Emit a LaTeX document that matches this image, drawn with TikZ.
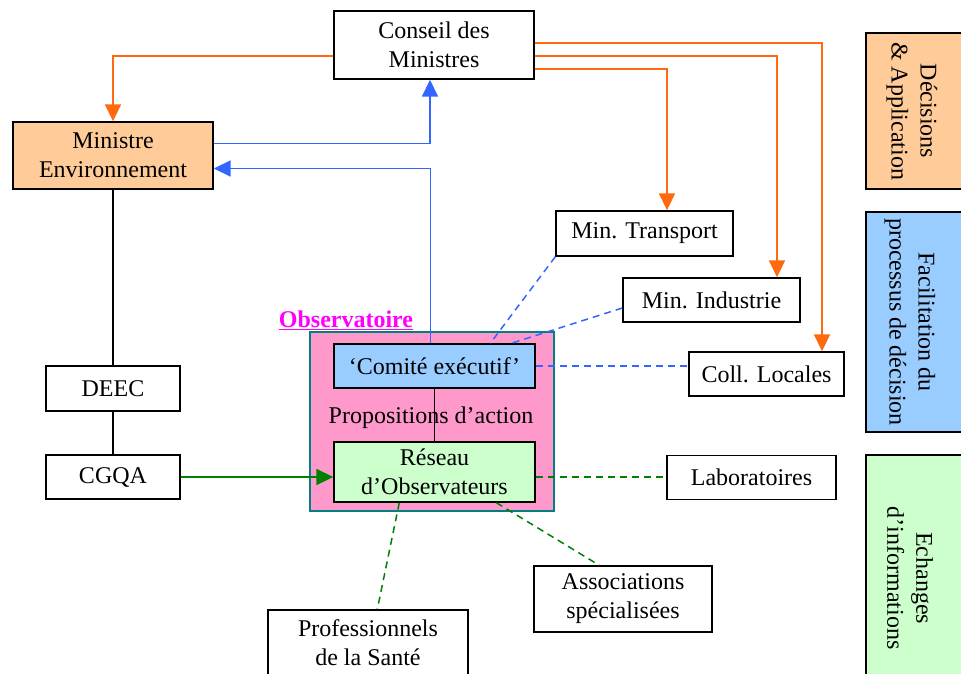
\documentclass[tikz,border=0pt]{standalone}
\usepackage{fontspec}
\setmainfont{Liberation Serif}
\usetikzlibrary{arrows.meta}
\definecolor{peach}{HTML}{FFCC99}
\definecolor{lblue}{HTML}{99CCFF}
\definecolor{lgreen}{HTML}{CCFFCC}
\definecolor{pinkobs}{HTML}{FF99CC}
\definecolor{tealb}{HTML}{008080}
\definecolor{orangel}{HTML}{FF6A10}
\definecolor{bluel}{HTML}{3366FF}
\definecolor{greenl}{HTML}{008000}
\definecolor{magentat}{HTML}{FF00FF}
\begin{document}
\begin{tikzpicture}[x=1pt,y=-1pt,
  every node/.style={font=\fontsize{24}{29}\selectfont},
  box/.style={draw=black, line width=1.4pt, inner sep=0pt, align=center, text=black},
  tip/.style={-{Triangle[length=17pt,width=16pt]}},
  orgline/.style={draw=orangel, line width=1.8pt, tip},
  blueline/.style={draw=bluel, line width=1.8pt, tip},
  bluedash/.style={draw=bluel, line width=1.5pt, dash pattern=on 7pt off 5pt},
  greendash/.style={draw=greenl, line width=1.5pt, dash pattern=on 7pt off 5pt},
  blackline/.style={draw=black, line width=1.8pt}]
\useasboundingbox (0,0) rectangle (961,673);

% Observatoire frame
\node[draw=tealb, line width=1.4pt, fill=pinkobs, minimum width=244pt, minimum height=179pt, inner sep=0pt] (obs) at (432,421.5) {};
\node[text=magentat, font=\fontsize{24}{29}\selectfont\bfseries, inner sep=0pt] (obslabel) at (346,320) {\underline{Observatoire}};
\node[inner sep=0pt] (prop) at (431,418) {Propositions d’action};

% boxes
\node[box, minimum width=200pt, minimum height=68pt] (cons) at (434,45) {Conseil des\\Ministres};
\node[box, fill=peach, minimum width=200pt, minimum height=67pt] (menv) at (113,155.5) {Ministre\\Environnement};
\node[box, minimum width=177pt, minimum height=45pt] (mtr) at (644.5,233.5) {Min. Transport};
\node[box, minimum width=177pt, minimum height=44pt] (mind) at (711.5,300) {Min. Industrie};
\node[box, minimum width=155pt, minimum height=44pt] (coll) at (766.5,374) {Coll. Locales};
\node[box, minimum width=134pt, minimum height=45pt] (deec) at (113,388.5) {DEEC};
\node[box, minimum width=134pt, minimum height=44pt] (cgqa) at (113,477) {CGQA};
\node[box, fill=lblue, minimum width=201pt, minimum height=44pt] (com) at (434.5,366) {‘Comité exécutif’};
\node[box, fill=lgreen, minimum width=201pt, minimum height=60pt] (res) at (434.5,472) {Réseau\\d’Observateurs};
\node[box, minimum width=169pt, minimum height=44pt] (lab) at (751.5,477.5) {Laboratoires};
\node[box, minimum width=178pt, minimum height=66pt] (assoc) at (623,599) {Associations\\spécialisées};
\node[box, minimum width=200pt, minimum height=66pt] (prof) at (368,643) {Professionnels\\de la Santé};

% right legend boxes
\node[box, fill=peach, minimum width=100pt, minimum height=156pt] (legA) at (916,111) {};
\node[box, fill=lblue, minimum width=100pt, minimum height=220pt] (legB) at (916,322) {};
\node[box, fill=lgreen, minimum width=100pt, minimum height=245pt] (legC) at (916,577.5) {};
\node[rotate=-90, align=center, inner sep=0pt] (legAt) at (912,111) {Décisions\\\& Application};
\node[rotate=-90, align=center, inner sep=0pt] (legBt) at (910,322) {Facilitation du\\processus de décision};
\node[rotate=-90, align=center, inner sep=0pt] (legCt) at (910,578) {Echanges\\d’informations};

% orange connectors
\draw[orgline] ([yshift=2pt]cons.east) -| ([xshift=55.5pt]coll.north);
\draw[orgline] ([yshift=-11pt]cons.east) -| ([xshift=65.5pt]mind.north);
\draw[orgline] ([yshift=-24pt]cons.east) -| ([xshift=22.5pt]mtr.north);
\draw[orgline] ([yshift=-11pt]cons.west) -| (menv.north);

% blue connectors
\draw[blueline] ([yshift=12pt]menv.east) -| ([xshift=-4pt]cons.south);
\draw[blueline] ([xshift=-4pt]com.north) |- ([yshift=-13pt]menv.east);

% blue dashed
\draw[bluedash] (mtr.south west) -- ([xshift=157pt]com.north west);
\draw[bluedash] ([yshift=-8pt]mind.west) -- ([xshift=178pt]com.north west);
\draw[bluedash] (com.east) -- (com.east -| coll.west);

% black
\draw[blackline] (menv.south) -- (deec.north);
\draw[blackline] (deec.south) -- (cgqa.north);
\draw[blackline] (com.south) -- (res.north);

% green
\draw[draw=greenl, line width=1.8pt, tip] (cgqa.east) -- (cgqa.east -| res.west);
\draw[greendash] ([yshift=-5pt]res.east) -- ([yshift=-5pt]res.east -| lab.west);
\draw[greendash] ([xshift=66pt]res.south west) -- ([xshift=110pt]prof.north west);
\draw[greendash] ([xshift=163pt]res.south west) -- ([xshift=66pt]assoc.north west);
\end{tikzpicture}
\end{document}
